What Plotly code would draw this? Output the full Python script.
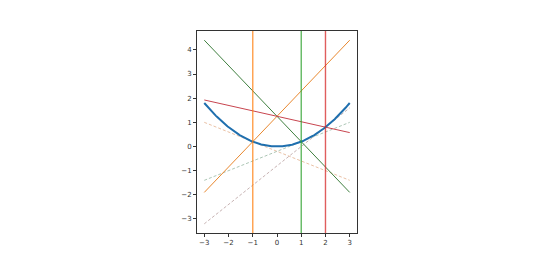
import numpy as np
import plotly.graph_objects as go

# Parabola y = a*x^2, focus at (0, 1/(4a))
coef_a = 0.2
x_min, x_max = -3.0, 3.0
ray_x = [-1, 1, 2]
ray_colors = ["#ff7f0e", "#2ca02c", "#d62728"]
diag_colors = ["#e8872e", "#3f7f3f", "#c8454f"]
tangent_colors = ["#e0a47a", "#86ab93", "#ad8f8f"]
x_ticks = [-3, -2, -1, 0, 1, 2, 3]
y_ticks = [-3, -2, -1, 0, 1, 2, 3, 4]

focus_y = 1.0 / (4 * coef_a)
xs = np.linspace(x_min, x_max, 200)
ys = coef_a * xs ** 2

fig = go.Figure()

ends = np.array([x_min, x_max])
all_y = list(ys)
# tangent lines (dashed, faint)
for px, c in zip(ray_x, tangent_colors):
    py = coef_a * px ** 2
    slope = 2 * coef_a * px
    ty = py + slope * (ends - px)
    all_y += list(ty)
    fig.add_trace(go.Scatter(x=ends, y=ty, mode="lines",
                             line=dict(color=c, width=0.9, dash="3px,2px"),
                             opacity=0.75, showlegend=False, hoverinfo="skip"))
# reflected rays through focus
for px, c in zip(ray_x, diag_colors):
    py = coef_a * px ** 2
    slope = (py - focus_y) / px
    ry = focus_y + slope * ends
    all_y += list(ry)
    fig.add_trace(go.Scatter(x=ends, y=ry, mode="lines",
                             line=dict(color=c, width=1),
                             showlegend=False, hoverinfo="skip"))

fig.add_trace(go.Scatter(x=xs, y=ys, mode="lines",
                         line=dict(color="#1f6fae", width=2),
                         showlegend=False, hoverinfo="skip"))

ymin, ymax = min(all_y), max(all_y)
ypad = 0.05 * (ymax - ymin)
xpad = 0.05 * (x_max - x_min)

for px, c in zip(ray_x, ray_colors):
    fig.add_vline(x=px, line=dict(color=c, width=1.4), opacity=0.75)

axis_common = dict(showgrid=False, zeroline=False, showline=True, mirror=True,
                   linecolor="#333333", linewidth=1, ticks="outside", ticklen=3,
                   tickwidth=0.8, tickcolor="#333333",
                   tickfont=dict(family="DejaVu Sans", size=7, color="#333333"))

fig.update_layout(
    width=540, height=262,
    margin=dict(l=197, r=183, t=31, b=29),
    paper_bgcolor="white", plot_bgcolor="white",
    xaxis=dict(range=[x_min - xpad, x_max + xpad], tickvals=x_ticks,
               ticktext=["\u2212" + str(-t) if t < 0 else str(t) for t in x_ticks],
               **axis_common),
    yaxis=dict(range=[ymin - ypad, ymax + ypad], tickvals=y_ticks,
               ticktext=["\u2212" + str(-t) if t < 0 else str(t) for t in y_ticks],
               **axis_common),
)

fig.write_html("out.html")
